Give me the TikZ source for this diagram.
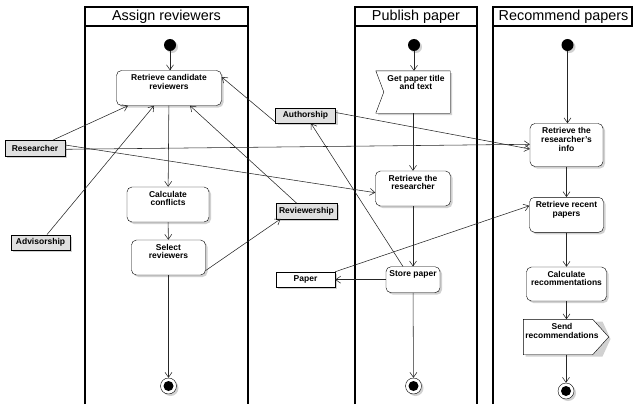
\documentclass[tikz,border=0pt]{standalone}
\usepackage{fontspec}
\setmainfont{Liberation Sans}
\usetikzlibrary{arrows.meta,shadows}

\tikzset{
  softshadow/.style={drop shadow={shadow xshift=2pt,shadow yshift=-2pt,opacity=0.18,fill=black}},
  action/.style={draw,rounded corners=5pt,fill=white,inner sep=0pt,softshadow,
    font=\fontsize{8.5}{8.8}\selectfont\bfseries},
  object/.style={draw,fill=black!12,inner sep=0pt,minimum height=15.5pt,softshadow,
    font=\fontsize{8.5}{8.8}\selectfont\bfseries},
  initnode/.style={circle,fill=black,inner sep=0pt,minimum size=12pt,softshadow},
  finalnode/.style={circle,draw,fill=white,inner sep=0pt,minimum size=16pt,softshadow},
  flow/.style={-{Straight Barb[length=5pt,width=7pt]},black!85,line width=0.55pt},
  lane/.style={line width=1.1pt},
  lanehead/.style={font=\fontsize{14.4}{15}\selectfont}
}
% top-aligned text in an action box: width, height, text
\newcommand{\acttext}[3]{\parbox[c][#2pt][t]{#1pt}{\centering\vspace*{4pt}#3}}

\begin{document}
\begin{tikzpicture}[x=1pt,y=-1pt]
  \useasboundingbox (0,0) rectangle (634,404);

  % Swimlanes
  \draw[lane] (85,404) -- (85,7) -- (248,7) -- (248,404);
  \draw[lane] (85,26) -- (248,26);
  \node[lanehead] (hassign) at (166.5,16.5) {Assign reviewers};

  \draw[lane] (355,404) -- (355,7) -- (477,7) -- (477,404);
  \draw[lane] (355,26) -- (477,26);
  \node[lanehead] (hpublish) at (416,16.5) {Publish paper};

  \draw[lane] (493,404) -- (493,7) -- (632,7) -- (632,26) -- (493,26);
  \node[lanehead] (hrecommend) at (563.5,16.5) {Recommend papers};

  % Assign reviewers
  \node[initnode] (start1) at (170,45) {};
  \node[action] (candidates) at (169,88) {\acttext{105}{35}{Retrieve candidate\\reviewers}};
  \node[action] (conflicts) at (168,204.5) {\acttext{82}{35}{Calculate\\conflicts}};
  \node[action] (select) at (168.5,257.5) {\acttext{74}{35}{Select\\reviewers}};
  \node[finalnode] (end1) at (168.5,386) {};
  \fill (end1) circle (5pt);

  % Objects
  \node[object,minimum width=60pt] (researcher) at (35,148) {Researcher};
  \node[object,minimum width=59pt] (advisorship) at (40.5,242.5) {Advisorship};
  \node[object,minimum width=60pt] (authorship) at (305.5,115.5) {Authorship};
  \node[object,minimum width=61pt] (reviewership) at (306.5,211) {Reviewership};
  \node[object,minimum width=59pt,fill=white] (paper) at (305.5,279.7) {Paper};

  % Publish paper
  \node[initnode] (start2) at (414,45) {};
  \node[inner sep=0pt,font=\fontsize{8.5}{8.8}\selectfont\bfseries] (gettitle) at (413,92)
    {\acttext{74}{42}{\hspace*{6pt}Get paper title\\\hspace*{6pt}and text}};
  \fill[black,opacity=0.18] (378,73) -- (452,73) -- (452,115) -- (378,115) -- (386,94) -- cycle;
  \draw[fill=white] (gettitle.north west) -- (gettitle.north east) -- (gettitle.south east)
    -- (gettitle.south west) -- ([xshift=8pt]gettitle.west) -- cycle;
  \node[inner sep=0pt,font=\fontsize{8.5}{8.8}\selectfont\bfseries] at (gettitle)
    {\acttext{74}{42}{\hspace*{6pt}Get paper title\\\hspace*{6pt}and text}};
  \node[action] (getresearcher) at (413,188.5) {\acttext{75}{35}{Retrieve the\\researcher}};
  \node[action] (store) at (413,279.7) {\acttext{54}{26}{Store paper}};
  \node[finalnode] (end2) at (413.5,386) {};
  \fill (end2) circle (5pt);

  % Recommend papers
  \node[initnode] (start3) at (567.5,45) {};
  \node[action] (info) at (566.5,145) {\acttext{73}{43}{Retrieve the\\researcher's\\info}};
  \node[action] (recent) at (566.5,214.8) {\acttext{74}{35}{Retrieve recent\\papers}};
  \node[action] (calc) at (566.5,284) {\acttext{80}{34}{Calculate\\recommentations}};
  \node[inner sep=0pt,font=\fontsize{8.5}{8.8}\selectfont\bfseries] (send) at (562,337)
    {\acttext{77}{35}{Send\\recommendations}};
  \fill[black,opacity=0.18] (525.5,321.5) -- (602.5,321.5) -- (610.5,339) -- (602.5,356.5) -- (525.5,356.5) -- cycle;
  \draw[fill=white] (send.north west) -- ([xshift=-8pt]send.north east) -- ([xshift=8pt]send.east)
    -- ([xshift=-8pt]send.south east) -- (send.south west) -- cycle;
  \node[inner sep=0pt,font=\fontsize{8.5}{8.8}\selectfont\bfseries] at (send)
    {\acttext{77}{35}{Send\\recommendations}};
  \node[finalnode] (end3) at (566,391) {};
  \fill (end3) circle (5pt);

  % Control flow
  \draw[flow] (start1) -- (start1 |- candidates.north);
  \draw[flow] (candidates) -- (conflicts);
  \draw[flow] (conflicts) -- (select);
  \draw[flow] (select) -- (end1);
  \draw[flow] (start2) -- (start2 |- gettitle.north);
  \draw[flow] (gettitle) -- (getresearcher);
  \draw[flow] (getresearcher) -- (store);
  \draw[flow] (store) -- (end2);
  \draw[flow] (start3) -- (start3 |- info.north);
  \draw[flow] (info) -- (recent);
  \draw[flow] (recent) -- (calc);
  \draw[flow] (calc) -- (send.north -| calc);
  \draw[flow] (send.south -| end3) -- (end3);

  % Object flow
  \draw[flow] ([xshift=18pt]researcher.north) -- ([xshift=-41pt]candidates.south);
  \draw[flow] ([xshift=6.5pt]advisorship.north) -- ([xshift=-15pt]candidates.south);
  \draw[flow] ([yshift=-6.5pt]authorship.west) -- ([yshift=11pt]candidates.east);
  \draw[flow] ([xshift=-10pt]reviewership.north) -- ([xshift=21pt]candidates.south);
  \draw[flow] ([yshift=-13pt]select.east) -- ([xshift=-26pt]reviewership.south);
  \draw[flow] ([yshift=-1.3pt]researcher.east) -- ([yshift=0.7pt]info.west);
  \draw[flow] ([yshift=3pt]researcher.east) -- ([yshift=-4.2pt]getresearcher.west);
  \draw[flow] ([yshift=3pt]authorship.east) -- ([yshift=-4pt]info.west);
  \draw[flow] ([xshift=-10pt]store.north) -- ([xshift=5.5pt]authorship.south);
  \draw[flow] (store) -- (paper);
  \draw[flow] (paper.north east) -- ([yshift=9pt]recent.west);
\end{tikzpicture}
\end{document}
